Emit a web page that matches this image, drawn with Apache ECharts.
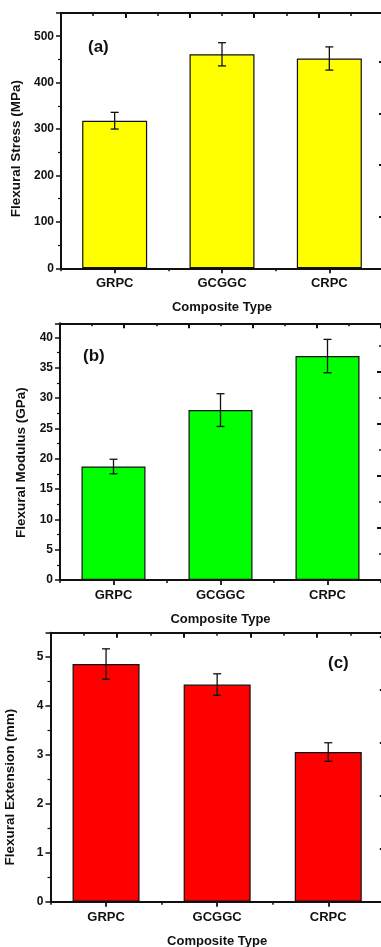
<!DOCTYPE html>
<html>
<head>
<meta charset="utf-8">
<script src="https://cdn.jsdelivr.net/npm/echarts@6/dist/echarts.min.js"></script>
<style>
  html, body { margin: 0; padding: 0; background: #fff; }
  #chart { width: 381px; height: 947px; }
</style>
</head>
<body>
<div id="chart"></div>
<script>
// 数据
const categories = ['GRPC', 'GCGGC', 'CRPC']
const stressMean = [318, 461, 452]
const stressErr = [18, 25, 25]
const modulusMean = [18.7, 28.0, 36.9]
const modulusErr = [1.2, 2.7, 2.75]
const extensionMean = [4.86, 4.44, 3.06]
const extensionErr = [0.31, 0.22, 0.19]
const yTitles = ['Flexural Stress (MPa)', 'Flexural Modulus (GPa)', 'Flexural Extension (mm)']
const xTitle = 'Composite Type'
const panelTags = ['(a)', '(b)', '(c)']

const ink = '#111'
const font = 'Liberation Sans, Arial, sans-serif'

// 每个面板的布局（titleShift: y 轴标题向下偏移的像素）
const panels = [
  { left: 61, top: 13, width: 322, height: 255.3, yMax: 550, yInt: 100, rightMax: 4.94,
    nameGap: 34, titleShift: 8, barWidth: 65, color: '#ffff00', mean: stressMean, err: stressErr, tag: [88, 49] },
  { left: 60, top: 323.3, width: 321, height: 256.7, yMax: 42.3, yInt: 5, rightMax: 4.94,
    nameGap: 29, titleShift: 11, barWidth: 64, color: '#00ff00', mean: modulusMean, err: modulusErr, tag: [83, 358] },
  { left: 50.5, top: 632.7, width: 333.3, height: 269, yMax: 5.5, yInt: 1, rightMax: 5.07,
    nameGap: 33, titleShift: 20, barWidth: 67, color: '#ff0000', mean: extensionMean, err: extensionErr, tag: [328, 665] }
]

// 类目中心位置（x 轴为 0~3 的数值轴）
const centers = categories.map((c, k) => k + 0.5)

const grid = [], xAxis = [], yAxis = [], series = [], graphic = []

panels.forEach((p, i) => {
  grid.push({ left: p.left, top: p.top, width: p.width, height: p.height, containLabel: false, outerBoundsMode: 'none' })
  // 底部轴：主刻度在类目边界，小刻度在类目中心
  xAxis.push({
    type: 'value', gridIndex: i, position: 'bottom', min: 0, max: 3, interval: 1,
    name: xTitle, nameLocation: 'middle', nameGap: 33,
    nameTextStyle: { fontFamily: font, fontWeight: 'bold', fontSize: 13, color: ink },
    axisLine: { show: true, onZero: false, lineStyle: { color: ink, width: 2 } },
    axisTick: { show: true, length: 3, lineStyle: { color: ink, width: 1.5 } },
    minorTick: { show: true, splitNumber: 2, length: 5, lineStyle: { color: ink, width: 1.8 } },
    axisLabel: {
      customValues: centers, margin: 9,
      formatter: v => categories[Math.floor(v)] || '',
      fontFamily: font, fontWeight: 'bold', fontSize: 13, color: ink
    },
    splitLine: { show: false }, minorSplitLine: { show: false }
  })
  // 顶部边框刻度
  xAxis.push({
    type: 'value', gridIndex: i, position: 'top', min: 0, max: 5, interval: 1,
    axisLine: { show: true, onZero: false, lineStyle: { color: ink, width: 2 } },
    axisTick: { show: true, inside: true, length: 5, lineStyle: { color: ink, width: 2 } },
    minorTick: { show: true, splitNumber: 2, length: 3, lineStyle: { color: ink, width: 1.5 } },
    axisLabel: { show: false }, splitLine: { show: false }, minorSplitLine: { show: false }
  })
  yAxis.push({
    type: 'value', gridIndex: i, position: 'left', min: 0, max: p.yMax, interval: p.yInt,
    name: yTitles[i], nameLocation: 'middle', nameGap: p.nameGap,
    nameTextStyle: {
      fontFamily: font, fontWeight: 'bold', fontSize: 13.5, color: ink,
      padding: [0, p.titleShift * 2, 0, 0]
    },
    axisLine: { show: true, onZero: false, lineStyle: { color: ink, width: 2 } },
    axisTick: { show: true, length: 5, lineStyle: { color: ink, width: 1.5 } },
    minorTick: { show: true, splitNumber: 2, length: 3, lineStyle: { color: ink, width: 1.2 } },
    axisLabel: { margin: 7, showMaxLabel: false, fontFamily: font, fontWeight: 'bold', fontSize: 12, color: ink },
    splitLine: { show: false }, minorSplitLine: { show: false }
  })
  // 右侧刻度
  yAxis.push({
    type: 'value', gridIndex: i, position: 'right', min: 0, max: p.rightMax, interval: 1,
    axisLine: { show: false, onZero: false },
    axisTick: { show: true, inside: true, length: 4, lineStyle: { color: ink, width: 2 } },
    minorTick: { show: true, splitNumber: 2, length: 2, lineStyle: { color: ink, width: 1.5 } },
    axisLabel: { show: false }, splitLine: { show: false }, minorSplitLine: { show: false }
  })
  series.push({
    type: 'bar', xAxisIndex: i * 2, yAxisIndex: i * 2,
    data: p.mean.map((m, k) => [centers[k], m]), barWidth: p.barWidth,
    itemStyle: { color: p.color, borderColor: ink, borderWidth: 1.2 },
    silent: true, z: 2
  })
  // 误差棒
  series.push({
    type: 'custom', xAxisIndex: i * 2, yAxisIndex: i * 2, z: 3, silent: true,
    data: p.mean.map((m, k) => [centers[k], m - p.err[k], m + p.err[k]]),
    encode: { x: 0, y: [1, 2] },
    renderItem: function (params, api) {
      const x = api.value(0)
      const lo = api.coord([x, api.value(1)])
      const hi = api.coord([x, api.value(2)])
      const w = 4
      const style = { stroke: ink, lineWidth: 1.3 }
      return {
        type: 'group',
        children: [
          { type: 'line', shape: { x1: hi[0], y1: hi[1], x2: lo[0], y2: lo[1] }, style },
          { type: 'line', shape: { x1: hi[0] - w, y1: hi[1], x2: hi[0] + w, y2: hi[1] }, style },
          { type: 'line', shape: { x1: lo[0] - w, y1: lo[1], x2: lo[0] + w, y2: lo[1] }, style }
        ]
      }
    }
  })
  graphic.push({
    type: 'text', left: p.tag[0], top: p.tag[1] - 10,
    style: { text: panelTags[i], fontFamily: font, fontWeight: 'bold', fontSize: 17, fill: ink }
  })
})

const myChart = echarts.init(document.getElementById('chart'), null, { renderer: 'canvas' })
myChart.setOption({
  animation: false,
  backgroundColor: '#fff',
  grid: grid,
  xAxis: xAxis,
  yAxis: yAxis,
  series: series,
  graphic: graphic
})
window.addEventListener('resize', function () {
  myChart.resize()
})
</script>
</body>
</html>
